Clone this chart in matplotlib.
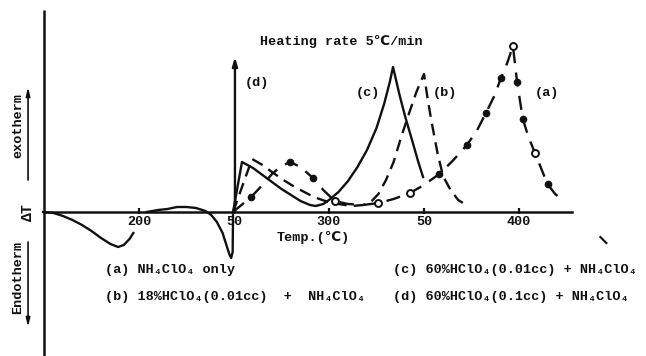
import matplotlib
matplotlib.use("Agg")
import matplotlib.pyplot as plt

plt.rcParams['font.family'] = ['Liberation Mono', 'DejaVu Sans Mono', 'DejaVu Sans']
plt.rcParams['font.weight'] = 'bold'

# ---- data: temperature (deg C) vs Delta T (arbitrary units) ----
# common low-temperature part (endotherms)
base_T = [149.5, 155, 160, 165, 170, 175, 180, 185, 189, 192, 195, 197]
base_h = [0, -1, -4, -8, -13, -19, -26, -32, -35, -33, -27, -21]
trans_T = [204, 210, 215, 220, 225, 230, 235, 238, 241, 244, 246, 247.5, 248.5, 249.3, 249.5]
trans_h = [0, 2, 3, 5, 5, 4, 1, -3, -10, -21, -33, -42, -46, -40, 0]

# (a) NH4ClO4 only
a_T = [249.5, 259, 265, 270, 275, 279.5, 285, 291.6, 297, 303, 310, 318, 326, 334,
       342.6, 350, 358, 365, 372.6, 378, 382.6, 387, 390.5, 394, 396.8, 399, 402,
       405, 408.4, 412, 415, 419, 423]
a_h = [0, 15, 27, 38, 46, 50, 45, 34, 22, 11, 8, 7, 9, 13,
       19, 27, 38, 51, 67, 82, 99, 116, 134, 150, 166, 130, 93,
       75, 59, 42, 28, 18, 12]
a_filled = [1, 5, 7, 16, 18, 20, 22, 25, 26, 30]
a_open = [9, 12, 14, 24, 28]

# (b) 18% HClO4 (0.01 cc) + NH4ClO4
b_T = [249.5, 259.5, 265, 270, 276, 282, 288, 292, 298, 305, 312, 318, 322, 326,
       330, 334, 338, 342, 346, 350, 352, 354, 357, 360, 364, 368, 370.5]
b_h = [0, 53, 47, 40, 32, 25, 19, 15, 11, 8, 6, 7, 10, 18,
       32, 50, 75, 98, 120, 138, 112, 90, 60, 36, 22, 12, 9]

# (c) 60% HClO4 (0.01 cc) + NH4ClO4
c_T = [249.5, 254.2, 260, 265, 270, 275, 280, 285, 290, 293, 297, 300, 305, 310,
       315, 320, 325, 329, 332, 333.7, 337, 340, 344, 347, 349.5]
c_h = [0, 50, 44, 37, 30, 23, 17, 11, 7, 6, 8, 12, 20, 31,
       45, 62, 84, 108, 130, 145, 118, 96, 70, 50, 35]

# (d) 60% HClO4 (0.1 cc) + NH4ClO4 : explosive, off scale
d_T = 250.5
d_h = 155

tick_T = [200, 250, 300, 350, 400]
tick_labels = ["200", "50", "300", "50", "400"]

legend_lines = [
    "(a) NH\u2084ClO\u2084 only",
    "(b) 18%HClO\u2084(0.01cc)  +  NH\u2084ClO\u2084",
    "(c) 60%HClO\u2084(0.01cc) + NH\u2084ClO\u2084",
    "(d) 60%HClO\u2084(0.1cc) + NH\u2084ClO\u2084",
]

# ---- figure ----
W, H = 646, 356
fig = plt.figure(figsize=(W / 100, H / 100), dpi=100)
ax = fig.add_axes([0, 0, 1, 1])
px = 1.9  # pixels per degree
ax.set_xlim(200 - 139 / px, 200 + (W - 139) / px)
ax.set_ylim(-(H - 212), 212)
ax.axis('off')

k = '#111111'
lw = 1.7
fs = 9.7

# axes lines
ax.plot([150, 150], [-144, 202], color=k, lw=1.8, solid_capstyle='butt')
ax.plot([150, 428], [0, 0], color=k, lw=1.8)
ax.plot(tick_T, [1.5] * len(tick_T), ls='none', marker='|', ms=4, mew=1.6, color=k)
for t, lab in zip(tick_T, tick_labels):
    ax.text(t, -10, lab, ha='center', va='center', fontsize=fs, color=k)
ax.text(291.6, -26, "Temp.(\u2103)", ha='center', va='center', fontsize=fs, color=k)

# endotherms common to the samples
ax.plot(base_T, base_h, color=k, lw=lw)
ax.plot(trans_T, trans_h, color=k, lw=lw)

# curves
ax.plot(c_T, c_h, color=k, lw=lw)
ax.plot(b_T, b_h, color=k, lw=lw, ls=(0, (5, 3)))
ax.plot(a_T, a_h, color=k, lw=lw, ls=(0, (6, 4)))
ax.plot([a_T[i] for i in a_filled], [a_h[i] for i in a_filled], ls='none',
        marker='o', ms=4.5, color=k)
ax.plot([a_T[i] for i in a_open], [a_h[i] for i in a_open], ls='none',
        marker='o', ms=5, mfc='white', mec=k, mew=1.4)
ax.annotate("", xy=(d_T, d_h), xytext=(d_T, 0),
            arrowprops=dict(arrowstyle='-|>,head_length=0.5,head_width=0.15',
                            color=k, lw=lw, shrinkA=0, shrinkB=0))

# curve labels
ax.text(306.3, 170, "Heating rate 5\u2103/min", ha='center', va='center', fontsize=fs, color=k)
ax.text(262, 129, "(d)", ha='center', va='center', fontsize=fs, color=k)
ax.text(320.5, 119, "(c)", ha='center', va='center', fontsize=fs, color=k)
ax.text(361, 119, "(b)", ha='center', va='center', fontsize=fs, color=k)
ax.text(414.7, 119, "(a)", ha='center', va='center', fontsize=fs, color=k)

# y direction labels
ax.text(136.3, 86, "exotherm", rotation=90, ha='center', va='center', fontsize=fs, color=k)
ax.text(141.3, 0, "\u0394T", rotation=90, ha='center', va='center', fontsize=fs + 1, color=k)
ax.text(136.3, -65, "Endotherm", rotation=90, ha='center', va='center', fontsize=fs, color=k)
ax.annotate("", xy=(141.6, 125), xytext=(141.6, 32),
            arrowprops=dict(arrowstyle='-|>,head_length=0.5,head_width=0.12',
                            color=k, lw=1.2, shrinkA=0, shrinkB=0))
ax.annotate("", xy=(141.6, -115), xytext=(141.6, -30),
            arrowprops=dict(arrowstyle='-|>,head_length=0.5,head_width=0.12',
                            color=k, lw=1.2, shrinkA=0, shrinkB=0))

# legend block
ax.text(182.1, -58, legend_lines[0], ha='left', va='center', fontsize=fs, color=k)
ax.text(182.1, -85, legend_lines[1], ha='left', va='center', fontsize=fs, color=k)
ax.text(333.7, -58, legend_lines[2], ha='left', va='center', fontsize=fs, color=k)
ax.text(333.7, -85, legend_lines[3], ha='left', va='center', fontsize=fs, color=k)

# small stray stroke
ax.plot([442.8, 446.0], [-25, -31], color=k, lw=1.5)

fig.savefig("out.png", dpi=100, facecolor='white')
